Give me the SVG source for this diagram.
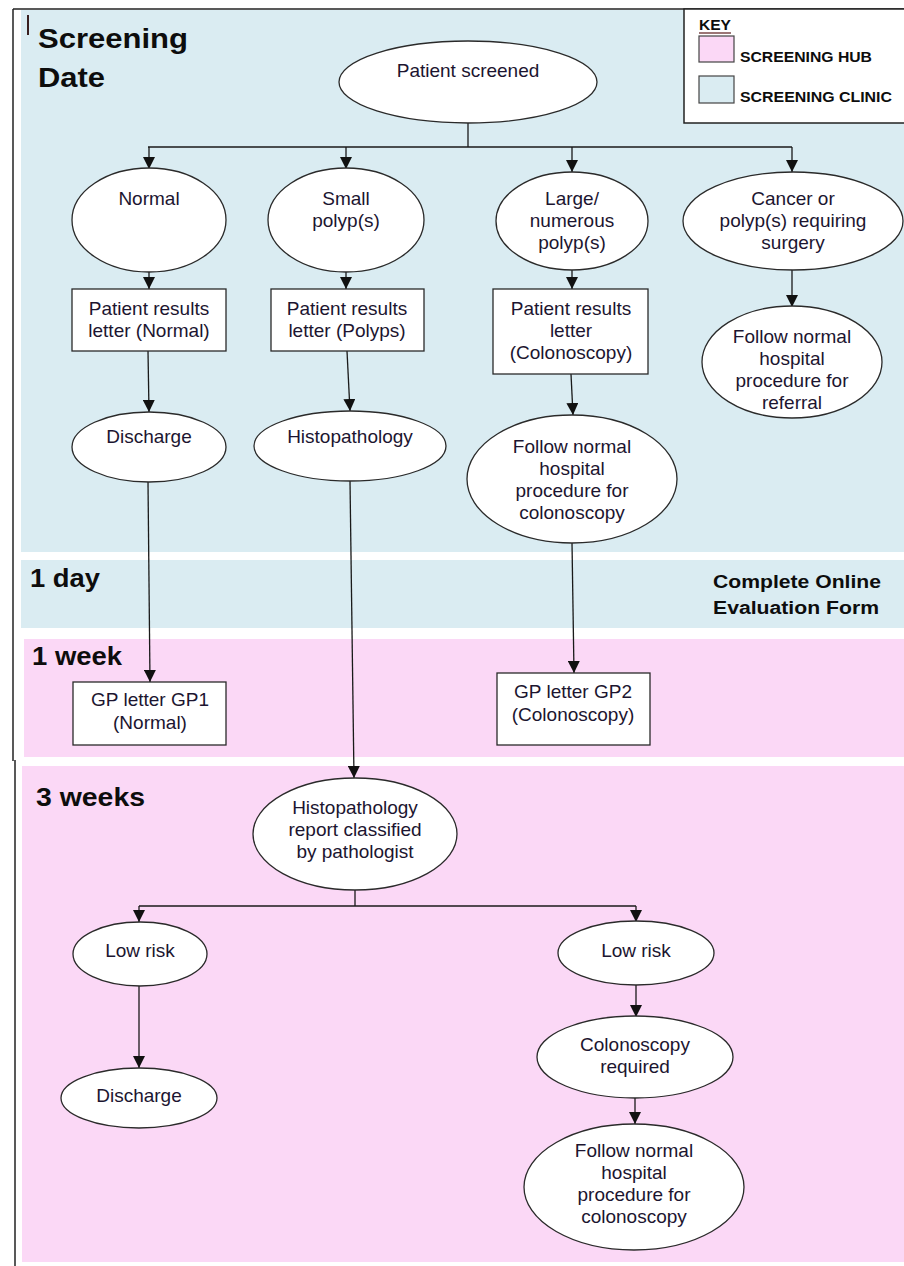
<svg xmlns="http://www.w3.org/2000/svg" width="904" height="1266" viewBox="0 0 904 1266">
<defs>
<marker id="arr" markerUnits="userSpaceOnUse" markerWidth="12" markerHeight="12" refX="10" refY="5" orient="auto" viewBox="0 0 10 10">
<path d="M0,0 L10,5 L0,10 Z" fill="#111"/>
</marker>
<style>
.node ellipse, .node rect { fill:#fff; stroke:#2a2a2a; stroke-width:1.3; }
.node text { font-family:"Liberation Sans", Arial, sans-serif; font-size:19px; fill:#1c1530; text-anchor:middle; }
.lbl { font-family:"Liberation Sans", Arial, sans-serif; font-weight:bold; fill:#0d0d0d; }
.conn path, .conn line { fill:none; stroke:#1a1a1a; stroke-width:1.3; }
.blue { fill:#daecf2; }
.pink { fill:#fbd8f6; }
</style>
</defs>
<rect width="904" height="1266" fill="#fff"/>
<!-- bands -->
<g id="bands">
<rect class="blue" x="21" y="10" width="883" height="542"/>
<rect class="blue" x="21" y="560" width="883" height="68"/>
<rect class="pink" x="24" y="639" width="880" height="118"/>
<rect class="pink" x="22" y="766" width="882" height="496"/>
</g>
<!-- outer border -->
<g id="border" stroke="#222" stroke-width="1.5" fill="none">
<line x1="13" y1="9" x2="904" y2="9"/>
<line x1="13" y1="9" x2="13" y2="761"/>
<line x1="15" y1="760" x2="15" y2="1266"/>
<line x1="28" y1="15" x2="28" y2="35" stroke="#3a2020" stroke-width="2"/>
</g>
<!-- band labels -->
<g id="labels">
<text class="lbl" x="38" y="48" font-size="27" textLength="150" lengthAdjust="spacingAndGlyphs">Screening</text>
<text class="lbl" x="38" y="87" font-size="27" textLength="67" lengthAdjust="spacingAndGlyphs">Date</text>
<text class="lbl" x="30" y="587" font-size="25" textLength="70" lengthAdjust="spacingAndGlyphs">1 day</text>
<text class="lbl" x="32" y="665" font-size="25" textLength="90" lengthAdjust="spacingAndGlyphs">1 week</text>
<text class="lbl" x="36" y="806" font-size="25" textLength="109" lengthAdjust="spacingAndGlyphs">3 weeks</text>
<text class="lbl" x="713" y="588" font-size="18" textLength="168" lengthAdjust="spacingAndGlyphs">Complete Online</text>
<text class="lbl" x="713" y="614" font-size="18" textLength="166" lengthAdjust="spacingAndGlyphs">Evaluation Form</text>
</g>
<!-- key -->
<g id="key">
<rect x="684" y="9" width="230" height="114" fill="#fff" stroke="#222" stroke-width="1.5"/>
<text class="lbl" x="699" y="30" font-size="14" fill="#2a0f0f" textLength="32" lengthAdjust="spacingAndGlyphs">KEY</text>
<line x1="699" y1="33" x2="731" y2="33" stroke="#5a1a1a" stroke-width="1.2"/>
<rect x="699" y="36" width="35" height="26" fill="#fbd8f6" stroke="#444" stroke-width="1.2"/>
<rect x="699" y="76" width="35" height="27" fill="#daecf2" stroke="#444" stroke-width="1.2"/>
<text class="lbl" x="740" y="62" font-size="14" textLength="132" lengthAdjust="spacingAndGlyphs">SCREENING HUB</text>
<text class="lbl" x="740" y="102" font-size="14" textLength="152" lengthAdjust="spacingAndGlyphs">SCREENING CLINIC</text>
</g>
<!-- connectors -->
<g id="connectors" class="conn">
<path d="M468,123 V147"/>
<path d="M148,147 H792"/>
<path d="M149,147 V169" marker-end="url(#arr)"/>
<path d="M346,147 V169" marker-end="url(#arr)"/>
<path d="M572,147 V172" marker-end="url(#arr)"/>
<path d="M792,147 V172" marker-end="url(#arr)"/>
<path d="M149,272 V289" marker-end="url(#arr)"/>
<path d="M346,272 V289" marker-end="url(#arr)"/>
<path d="M572,270 V289" marker-end="url(#arr)"/>
<path d="M792,270 V307" marker-end="url(#arr)"/>
<path d="M148,351 L149,412" marker-end="url(#arr)"/>
<path d="M347,351 L350,411" marker-end="url(#arr)"/>
<path d="M571,374 L573,415" marker-end="url(#arr)"/>
<path d="M148,482 L150,682" marker-end="url(#arr)"/>
<path d="M350,481 L354,778" marker-end="url(#arr)"/>
<path d="M572,543 L574,673" marker-end="url(#arr)"/>
<path d="M355,890 V906"/>
<path d="M139,906 H636"/>
<path d="M139,906 V922" marker-end="url(#arr)"/>
<path d="M636,906 V922" marker-end="url(#arr)"/>
<path d="M139,986 V1068" marker-end="url(#arr)"/>
<path d="M636,985 V1017" marker-end="url(#arr)"/>
<path d="M635,1098 V1124" marker-end="url(#arr)"/>
</g>
<!-- nodes -->
<g id="n-screened" class="node"><ellipse cx="468" cy="82" rx="129" ry="41"/><text x="468" y="77">Patient screened</text></g>
<g id="n-normal" class="node"><ellipse cx="149" cy="220" rx="77" ry="52"/><text x="149" y="205">Normal</text></g>
<g id="n-small" class="node"><ellipse cx="346" cy="220" rx="78" ry="52"/><text x="346" y="205">Small</text><text x="346" y="227">polyp(s)</text></g>
<g id="n-large" class="node"><ellipse cx="572" cy="221" rx="76" ry="49"/><text x="572" y="205">Large/</text><text x="572" y="227">numerous</text><text x="572" y="249">polyp(s)</text></g>
<g id="n-cancer" class="node"><ellipse cx="793" cy="221" rx="110" ry="49"/><text x="793" y="205">Cancer or</text><text x="793" y="227">polyp(s) requiring</text><text x="793" y="249">surgery</text></g>
<g id="n-letter-normal" class="node"><rect x="72" y="289" width="154" height="62"/><text x="149" y="315">Patient results</text><text x="149" y="337">letter (Normal)</text></g>
<g id="n-letter-polyps" class="node"><rect x="271" y="289" width="153" height="62"/><text x="347" y="315">Patient results</text><text x="347" y="337">letter (Polyps)</text></g>
<g id="n-letter-colon" class="node"><rect x="493" y="289" width="155" height="85"/><text x="571" y="315">Patient results</text><text x="571" y="337">letter</text><text x="571" y="359">(Colonoscopy)</text></g>
<g id="n-referral" class="node"><ellipse cx="792" cy="362" rx="90" ry="56"/><text x="792" y="343">Follow normal</text><text x="792" y="365">hospital</text><text x="792" y="387">procedure for</text><text x="792" y="409">referral</text></g>
<g id="n-discharge1" class="node"><ellipse cx="149" cy="447" rx="77" ry="35"/><text x="149" y="443">Discharge</text></g>
<g id="n-histo" class="node"><ellipse cx="350" cy="446" rx="96" ry="35"/><text x="350" y="443">Histopathology</text></g>
<g id="n-colon1" class="node"><ellipse cx="572" cy="479" rx="105" ry="64"/><text x="572" y="453">Follow normal</text><text x="572" y="475">hospital</text><text x="572" y="497">procedure for</text><text x="572" y="519">colonoscopy</text></g>
<g id="n-gp1" class="node"><rect x="73" y="682" width="153" height="63"/><text x="150" y="706">GP letter GP1</text><text x="150" y="729">(Normal)</text></g>
<g id="n-gp2" class="node"><rect x="497" y="673" width="153" height="72"/><text x="573" y="698">GP letter GP2</text><text x="573" y="721">(Colonoscopy)</text></g>
<g id="n-report" class="node"><ellipse cx="355" cy="834" rx="102" ry="56"/><text x="355" y="814">Histopathology</text><text x="355" y="836">report classified</text><text x="355" y="858">by pathologist</text></g>
<g id="n-low1" class="node"><ellipse cx="140" cy="954" rx="67" ry="32"/><text x="140" y="957">Low risk</text></g>
<g id="n-discharge2" class="node"><ellipse cx="139" cy="1098" rx="78" ry="30"/><text x="139" y="1102">Discharge</text></g>
<g id="n-low2" class="node"><ellipse cx="636" cy="953" rx="78" ry="32"/><text x="636" y="957">Low risk</text></g>
<g id="n-colreq" class="node"><ellipse cx="635" cy="1057" rx="98" ry="41"/><text x="635" y="1051">Colonoscopy</text><text x="635" y="1073">required</text></g>
<g id="n-colon2" class="node"><ellipse cx="634" cy="1187" rx="110" ry="63"/><text x="634" y="1157">Follow normal</text><text x="634" y="1179">hospital</text><text x="634" y="1201">procedure for</text><text x="634" y="1223">colonoscopy</text></g>
</svg>
